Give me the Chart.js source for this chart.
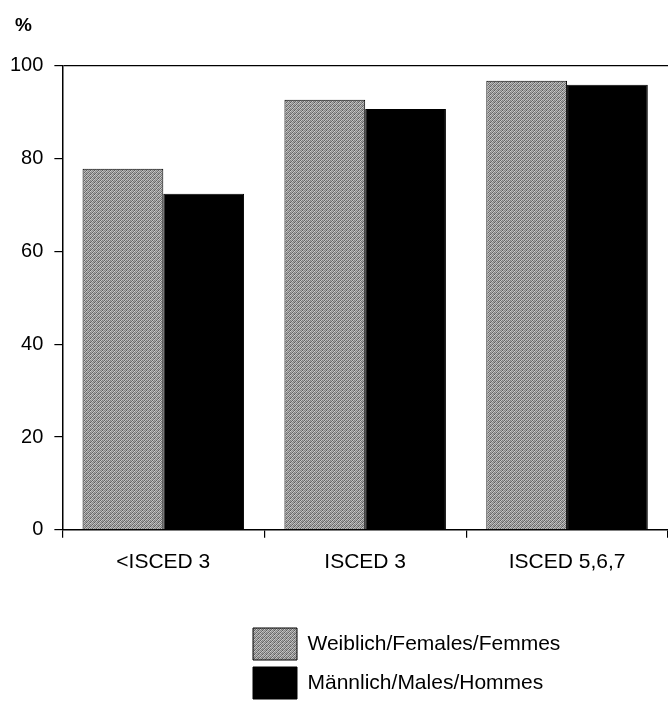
<!DOCTYPE html>
<html><head><meta charset="utf-8">
<script src="https://cdn.jsdelivr.net/npm/chart.js@4"></script>
<style>html,body{margin:0;padding:0;background:#fff}</style>
</head><body>
<canvas id="c" width="668" height="704"></canvas>
<script>
const categories = ['<ISCED 3', 'ISCED 3', 'ISCED 5,6,7'];
const seriesNames = ['Weiblich/Females/Femmes', 'Männlich/Males/Hommes'];
const females = [77.8, 92.7, 96.8];
const males = [72.4, 90.7, 95.9];
const yTicks = [0, 20, 40, 60, 80, 100];
const yUnit = '%';

const FONT = "'Liberation Sans', Arial, Helvetica, sans-serif";

function stipple() {
  const c = document.createElement('canvas');
  c.width = 4; c.height = 4;
  const g = c.getContext('2d');
  const m = [[0x64,0xc4,0x80,0xb0],[0xc8,0x78,0xa0,0x6c],[0x88,0xac,0x5c,0xbc],[0xb4,0x70,0xcc,0x90]];
  for (let j = 0; j < 4; j++) for (let i = 0; i < 4; i++) {
    const v = m[j][i];
    g.fillStyle = `rgb(${v},${v},${v})`;
    g.fillRect(i, j, 1, 1);
  }
  return document.getElementById('c').getContext('2d').createPattern(c, 'repeat');
}

const placeBlocks = {
  id: 'placeBlocks',
  afterLayout(chart) {
    const lg = chart.legend;
    if (lg) {
      const w = lg.width, h = lg.height;
      lg.left = 246; lg.right = lg.left + w;
      lg.top = 621; lg.bottom = lg.top + h;
    }
    const t = chart.titleBlock;
    if (t) {
      const w = t.width;
      t.left = 15; t.right = t.left + w;
    }
  }
};

new Chart(document.getElementById('c'), {
  type: 'bar',
  data: {
    labels: categories,
    datasets: [
      { label: seriesNames[0], data: females, backgroundColor: stipple(), borderColor: '#000', borderWidth: 1 },
      { label: seriesNames[1], data: males, backgroundColor: '#000', borderColor: '#000', borderWidth: 1 }
    ]
  },
  options: {
    responsive: false,
    animation: false,
    layout: { padding: { left: -1, right: -7, top: 0, bottom: 29 } },
    datasets: { bar: { categoryPercentage: 0.8, barPercentage: 1.0 } },
    scales: {
      x: {
        grid: { offset: true, drawOnChartArea: false, color: '#000', tickColor: '#000', tickLength: 8, lineWidth: 1.2 },
        border: { display: true, color: '#000', width: 1.5 },
        ticks: { color: '#000', font: { family: FONT, size: 21 }, padding: 12, maxRotation: 0 }
      },
      y: {
        min: 0, max: 100,
        afterBuildTicks: s => { s.ticks = yTicks.map(v => ({ value: v })); },
        grid: {
          color: ctx => (ctx.tick && ctx.tick.value === 100) ? '#000' : 'rgba(0,0,0,0)',
          tickColor: '#000', tickLength: 8, lineWidth: 1.2
        },
        border: { display: true, color: '#000', width: 1.5 },
        ticks: { color: '#000', font: { family: FONT, size: 20 }, padding: 11 }
      }
    },
    plugins: {
      title: {
        display: true, text: yUnit, align: 'start', color: '#000',
        font: { family: FONT, size: 19, weight: 'bold' },
        padding: { top: 14, bottom: 29 }
      },
      legend: {
        position: 'bottom', align: 'start', fullSize: false,
        labels: { color: '#000', font: { family: FONT, size: 21 }, boxWidth: 44, boxHeight: 32, padding: 7 }
      },
      tooltip: { enabled: false }
    }
  },
  plugins: [placeBlocks]
});
</script>
</body></html>
